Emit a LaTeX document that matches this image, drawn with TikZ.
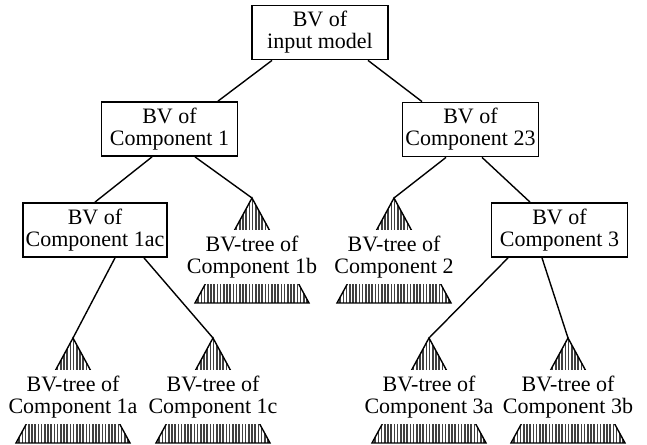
\documentclass[tikz,border=0pt]{standalone}
\usepackage{fontspec}
\setmainfont{Liberation Serif}

\begin{document}
\begin{tikzpicture}[x=1pt,y=-1pt,
  bvbox/.style={draw,line width=1.8pt,minimum width=136pt,minimum height=54pt,
    inner xsep=3pt,align=center,font=\fontsize{22}{22}\selectfont},
  treetext/.style={fill=white,inner xsep=1pt,inner ysep=6pt,align=center,
    font=\fontsize{22}{22}\selectfont},
  treeline/.style={line width=1.4pt,line join=miter},
  hatch/.style={line width=1.5pt,black!75},
  edge/.style={line width=1.4pt}]
  \useasboundingbox (0,0) rectangle (647,444);
  % boxes
  \node[bvbox] (root) at (320,32.5) {BV of\\input model};
  \node[bvbox] (c1) at (169.5,129) {BV of\\Component 1};
  \node[bvbox] (c23) at (470.5,129.5) {BV of\\Component 23};
  \node[bvbox,minimum width=144pt] (c1ac) at (95,230) {BV of\\Component 1ac};
  \node[bvbox] (c3) at (559.5,230) {BV of\\Component 3};
  % subtrees: hatched triangle with the label over it
  \foreach \n/\x/\y/\t in {t1b/252/198/1b, t2/394/198/2, t1a/73/338/1a,
      t1c/213/338/1c, t3a/429/338/3a, t3b/568/338/3b}{
    \coordinate (\n) at (\x,\y);
    \begin{scope}
      \clip (\n) -- ++(-57,105) -- ++(114,0) -- cycle;
      \foreach \k in {-57,-53.8,...,57}
        \draw[hatch] ([xshift=\k pt]\n) -- ++(0,105);
    \end{scope}
    \draw[treeline] (\n) -- ++(-57,105) -- ++(114,0) -- cycle;
    \node[treetext] (\n-txt) at ([yshift=-59pt]\n) {BV-tree of\\Component \t};
  }
  % edges
  \draw[edge] ([xshift=-48pt]root.south) -- ([xshift=48.5pt]c1.north);
  \draw[edge] ([xshift=48pt]root.south) -- ([xshift=-48.5pt]c23.north);
  \draw[edge] ([xshift=-17.5pt]c1.south) -- (c1ac.north);
  \draw[edge] ([xshift=25.5pt]c1.south) -- (t1b);
  \draw[edge] ([xshift=-24.5pt]c23.south) -- (t2);
  \draw[edge] ([xshift=11.5pt]c23.south) -- ([xshift=-29.5pt]c3.north);
  \draw[edge] ([xshift=20pt]c1ac.south) -- (t1a);
  \draw[edge] ([xshift=49pt]c1ac.south) -- (t1c);
  \draw[edge] ([xshift=-51.5pt]c3.south) -- (t3a);
  \draw[edge] ([xshift=-17.5pt]c3.south) -- (t3b);
\end{tikzpicture}
\end{document}
